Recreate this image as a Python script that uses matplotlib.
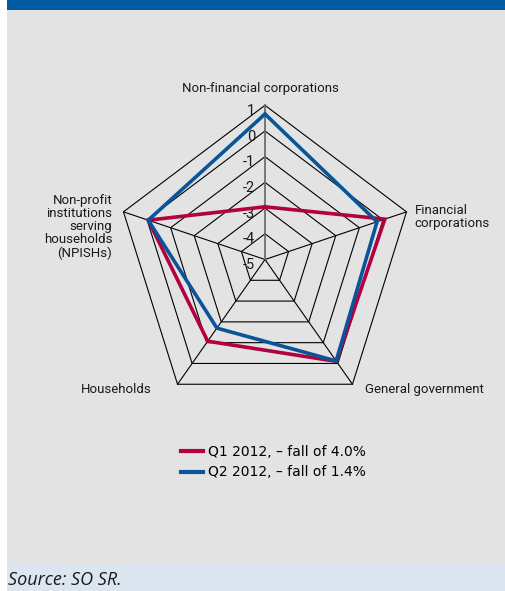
import numpy as np
import matplotlib
matplotlib.use("Agg")
import matplotlib.pyplot as plt
from matplotlib.patches import Rectangle
from matplotlib.lines import Line2D

# sectors, clockwise from the top
sectors = ["Non-financial corporations", "Financial\ncorporations", "General government",
           "Households", "Non-profit\ninstitutions\nserving\nhouseholds\n(NPISHs)"]
q1_2012 = [-2.95, 0.08, -0.1, -1.07, -0.05]
q2_2012 = [0.66, -0.25, -0.12, -1.7, -0.05]
series_labels = ["Q1 2012, \u2013 fall of 4.0%", "Q2 2012, \u2013 fall of 1.4%"]
ticks = [-5, -4, -3, -2, -1, 0, 1]

RED = "#b3003e"
BLUE = "#0a5499"
NARROW = ["Roboto", "DejaVu Sans"]

W, H = 506, 591
cx, cy = 265, 259.5          # centre of the web in pixels from top-left
sx, sy = 24.8, 25.7          # pixels per unit along x and y

fig = plt.figure(figsize=(W / 100, H / 100), dpi=100)
fig.patch.set_facecolor("white")

# panel backgrounds
fig.patches.append(Rectangle((7 / W, 0), 1, 1, transform=fig.transFigure,
                             facecolor="#e3e3e3", edgecolor="none", zorder=-3))
fig.patches.append(Rectangle((7 / W, 1 - 9.7 / H), 1, 9.7 / H, transform=fig.transFigure,
                             facecolor="#005ba1", edgecolor="none", zorder=-2))
fig.patches.append(Rectangle((7 / W, 0), 1, 28.3 / H, transform=fig.transFigure,
                             facecolor="#dce6f0", edgecolor="none", zorder=-2))
fig.text(8 / W, 1 - 580 / H, "Source: SO SR.", family=["Open Sans", "DejaVu Sans"],
         style="italic", fontsize=13, color="#1a1a1a", va="center", ha="left")

ax = fig.add_axes([0, 0, 1, 1])
ax.set_xlim(-cx / sx, (W - cx) / sx)
ax.set_ylim(-(H - cy) / sy, cy / sy)
ax.axis("off")
ax.patch.set_alpha(0)

rmin = ticks[0]
angles = np.deg2rad([90, 18, -54, -126, 162])


def web(vals):
    r = np.asarray(vals, dtype=float) - rmin
    x = r * np.cos(angles)
    y = r * np.sin(angles)
    return np.append(x, x[0]), np.append(y, y[0])


# rings
for t in ticks[1:]:
    x, y = web([t] * 5)
    ax.plot(x, y, color="black", lw=0.8, zorder=1)

# spokes
rmax = ticks[-1] - rmin
for i, a in enumerate(angles):
    if i == 0:
        ax.plot([0, rmax * np.cos(a)], [0, rmax * np.sin(a)], color="#6e6e6e", lw=1.3, zorder=2)
    else:
        ax.plot([0, rmax * np.cos(a)], [0, rmax * np.sin(a)], color="black", lw=0.8, zorder=1)

# value axis labels
for t in ticks:
    ax.annotate(str(t), (0, t - rmin), xytext=(-7, -4), textcoords="offset points",
                ha="right", va="center", fontsize=10.5, family=NARROW, color="#1a1a1a")

# series
x, y = web(q1_2012)
ax.plot(x, y, color=RED, lw=2.6, solid_joinstyle="miter", zorder=3)
x, y = web(q2_2012)
ax.plot(x, y, color=BLUE, lw=2.6, solid_joinstyle="miter", zorder=4)

# sector labels
offsets = [(-3, 7.5, "center", "bottom"), (6, -4, "left", "center"),
           (9, -4, "left", "center"), (-19, -4, "right", "center"), (-8, -11, "right", "center")]
for name, a, (ox, oy, ha, va) in zip(sectors, angles, offsets):
    ax.annotate(name, (rmax * np.cos(a), rmax * np.sin(a)), xytext=(ox, oy),
                textcoords="offset points", ha=ha, va=va, multialignment=ha,
                fontsize=9.5, family=NARROW, color="#1a1a1a", linespacing=1.0)

handles = [Line2D([], [], color=RED, lw=3), Line2D([], [], color=BLUE, lw=3)]
ax.legend(handles, series_labels, loc="center", bbox_to_anchor=(273 / W, 1 - 462 / H),
          bbox_transform=fig.transFigure, frameon=False,
          handlelength=1.6, handletextpad=0.35, labelspacing=0.5,
          prop={"family": "DejaVu Sans", "size": 10})

fig.savefig("out.png", dpi=100)
